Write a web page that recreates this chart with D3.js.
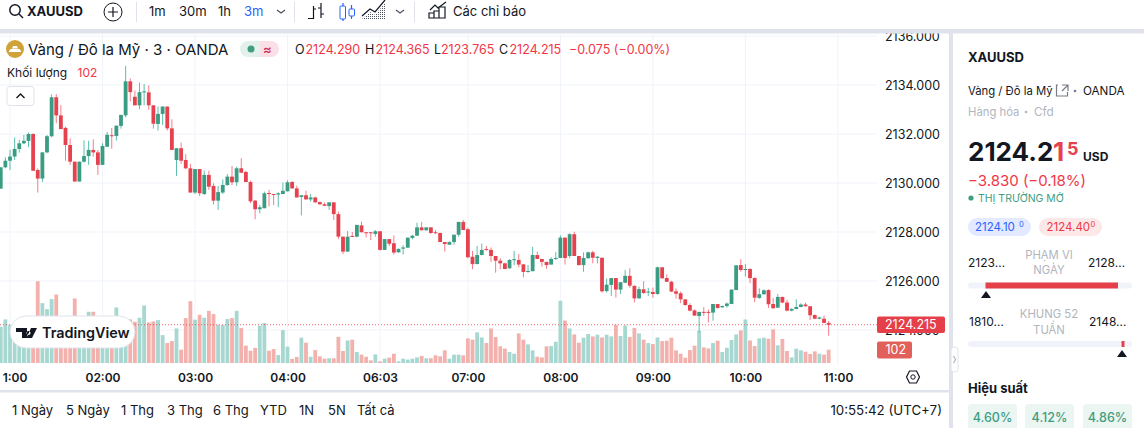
<!DOCTYPE html>
<html lang="vi">
<head>
  <meta charset="UTF-8">
  <title>XAUUSD</title>
  <script src="https://d3js.org/d3.v7.min.js"></script>
  <style>
    html, body { margin: 0; padding: 0; background: #fff; overflow: hidden; }
    svg { display: block; font-family: Inter, "Noto Sans", sans-serif; }
    .axis path, .axis line { display: none; }
    .axis text { font-family: Inter, "Noto Sans", sans-serif; fill: #131722; }
  </style>
</head>
<body>
  <script>
    // Candles, left to right, one every 3 minutes
    const opens = [2129.77,2130.64,2130.91,2131.08,2131.39,2131.62,2131.72,2132.00,2130.53,2130.18,2131.25,2131.91,2133.50,2132.76,2132.25,2131.55,2130.87,2130.06,2130.87,2131.10,2131.35,2131.25,2130.74,2131.48,2131.95,2131.92,2132.33,2132.76,2134.15,2133.52,2133.17,2133.70,2133.70,2133.17,2132.41,2132.82,2133.12,2132.23,2130.94,2131.42,2130.94,2130.60,2129.61,2130.57,2129.55,2130.33,2129.88,2129.28,2129.61,2129.92,2130.26,2130.03,2130.60,2130.45,2130.04,2129.28,2128.93,2128.97,2129.59,2129.55,2129.53,2129.55,2129.66,2130.04,2129.78,2129.43,2129.50,2129.33,2129.41,2129.22,2129.13,2129.06,2129.21,2128.73,2127.81,2127.20,2127.84,2127.81,2128.27,2127.99,2127.99,2127.92,2128.03,2127.27,2127.71,2127.54,2127.17,2127.32,2127.36,2127.76,2127.85,2128.19,2128.07,2128.19,2127.99,2127.96,2127.59,2127.48,2127.59,2127.89,2128.41,2128.11,2126.99,2126.69,2127.06,2127.31,2127.27,2127.02,2126.83,2126.72,2126.52,2126.86,2126.86,2126.68,2126.37,2126.40,2127.06,2126.90,2126.78,2126.67,2126.90,2126.94,2127.77,2127.02,2127.91,2127.02,2126.65,2126.93,2127.17,2126.94,2126.95,2125.59,2125.84,2126.12,2125.65,2125.93,2126.21,2125.80,2125.29,2125.66,2125.53,2125.55,2125.47,2126.56,2126.12,2125.97,2125.58,2125.50,2125.25,2125.02,2124.80,2124.57,2124.74,2124.74,2124.71,2125.06,2124.93,2124.98,2125.06,2125.63,2126.65,2126.45,2126.49,2126.12,2125.31,2125.46,2125.63,2125.06,2124.91,2125.35,2125.12,2124.79,2124.86,2124.94,2125.04,2124.97,2124.61,2124.46,2124.46,2124.29];
    const highs = [2130.64,2131.05,2131.35,2131.86,2131.76,2131.96,2132.06,2132.03,2130.60,2131.25,2131.96,2133.62,2133.63,2133.18,2132.30,2131.82,2130.87,2130.87,2131.74,2131.72,2131.78,2131.35,2131.62,2132.08,2132.25,2132.34,2132.78,2134.78,2134.27,2133.77,2134.10,2134.04,2133.99,2133.17,2133.12,2133.12,2133.12,2132.60,2131.42,2131.65,2131.18,2130.78,2130.57,2130.57,2130.50,2130.50,2129.99,2129.88,2130.15,2130.37,2130.70,2130.67,2131.01,2130.50,2130.10,2129.31,2129.10,2129.65,2129.72,2129.55,2129.62,2130.02,2130.11,2130.08,2129.89,2129.50,2129.69,2129.55,2129.44,2129.24,2129.20,2129.21,2129.21,2128.84,2127.81,2128.04,2128.00,2128.29,2128.42,2127.99,2127.99,2128.08,2128.03,2127.71,2127.71,2127.86,2127.33,2127.46,2127.77,2127.88,2128.38,2128.41,2128.19,2128.19,2128.08,2127.97,2127.59,2127.62,2127.89,2128.42,2128.49,2128.18,2127.23,2127.43,2127.53,2127.43,2127.37,2127.02,2126.93,2126.75,2126.89,2127.23,2127.10,2126.68,2126.65,2127.39,2127.20,2126.90,2126.78,2126.97,2127.18,2127.86,2127.77,2127.95,2128.01,2127.02,2127.17,2127.20,2127.23,2127.02,2126.95,2126.10,2126.12,2126.12,2125.95,2126.45,2126.52,2125.82,2125.77,2125.99,2125.72,2125.73,2126.59,2126.56,2126.27,2126.01,2125.70,2125.57,2125.25,2125.09,2124.84,2124.74,2124.93,2124.84,2125.06,2125.06,2125.00,2125.12,2125.65,2126.64,2126.89,2126.69,2126.52,2126.15,2125.70,2125.66,2125.66,2125.31,2125.47,2125.36,2125.23,2124.89,2125.25,2125.09,2125.12,2124.98,2124.64,2124.55,2124.59,2124.365];
    const lows = [2129.77,2130.60,2130.53,2130.94,2131.24,2131.59,2131.46,2130.50,2129.61,2130.04,2131.21,2131.86,2132.44,2132.20,2130.91,2130.74,2130.06,2130.06,2130.83,2130.74,2131.08,2130.33,2130.74,2131.48,2131.40,2131.73,2132.22,2132.68,2133.33,2133.17,2133.01,2133.17,2132.98,2132.22,2132.14,2132.37,2132.14,2131.35,2130.29,2130.78,2130.56,2129.61,2129.55,2129.47,2129.51,2129.72,2129.13,2128.90,2129.55,2129.88,2129.92,2129.88,2130.40,2130.04,2129.17,2128.52,2128.76,2128.97,2129.04,2129.10,2129.01,2129.55,2129.66,2129.77,2129.41,2128.68,2129.33,2129.24,2129.20,2129.12,2129.07,2128.90,2128.49,2127.71,2127.10,2127.20,2127.81,2127.78,2127.99,2127.78,2127.67,2127.81,2127.24,2127.27,2127.43,2127.08,2127.16,2127.08,2127.36,2127.70,2127.85,2128.06,2128.06,2127.92,2127.92,2127.59,2127.20,2127.48,2127.48,2127.81,2128.08,2126.93,2126.48,2126.69,2127.05,2127.24,2126.78,2126.34,2126.48,2126.48,2126.50,2126.65,2126.56,2126.15,2126.34,2126.40,2126.90,2126.59,2126.50,2126.67,2126.86,2126.94,2126.67,2126.93,2127.02,2126.63,2126.38,2126.91,2126.72,2126.72,2125.53,2125.53,2125.39,2125.32,2125.47,2125.91,2125.72,2125.12,2125.28,2125.47,2125.39,2125.32,2125.44,2126.10,2125.96,2125.55,2125.28,2125.09,2124.99,2124.76,2124.57,2123.93,2124.57,2124.31,2124.38,2124.87,2124.90,2124.91,2125.06,2125.63,2126.38,2126.18,2125.91,2125.14,2125.27,2125.44,2124.90,2124.86,2124.90,2125.09,2124.76,2124.76,2124.84,2124.93,2124.95,2124.41,2124.44,2124.44,2124.27,2123.765];
    const closes = [2130.64,2130.91,2131.08,2131.39,2131.62,2131.72,2132.00,2130.50,2130.18,2131.25,2131.91,2133.50,2132.76,2132.20,2131.55,2130.87,2130.06,2130.87,2131.10,2131.35,2131.25,2130.74,2131.51,2131.97,2131.92,2132.34,2132.78,2134.15,2133.71,2133.17,2133.71,2133.74,2133.17,2132.42,2132.82,2133.12,2132.23,2131.35,2131.42,2130.91,2130.60,2129.61,2130.57,2129.58,2130.33,2129.85,2129.28,2129.63,2129.92,2130.26,2130.03,2130.60,2130.42,2130.04,2129.25,2128.93,2129.01,2129.58,2129.57,2129.53,2129.58,2129.68,2130.03,2129.78,2129.41,2129.50,2129.33,2129.41,2129.21,2129.13,2129.07,2129.21,2128.73,2127.81,2127.20,2127.81,2127.81,2128.29,2127.99,2127.95,2127.96,2128.03,2127.27,2127.71,2127.52,2127.16,2127.31,2127.37,2127.77,2127.85,2128.19,2128.07,2128.19,2127.96,2127.96,2127.59,2127.51,2127.59,2127.89,2128.41,2128.08,2126.97,2126.69,2127.06,2127.27,2127.27,2127.02,2126.83,2126.72,2126.49,2126.86,2126.89,2126.67,2126.37,2126.41,2127.06,2126.90,2126.78,2126.65,2126.90,2126.94,2127.77,2126.94,2127.91,2127.02,2126.65,2126.94,2127.17,2126.95,2126.99,2125.58,2125.85,2126.12,2125.65,2125.95,2126.21,2125.81,2125.29,2125.67,2125.51,2125.57,2125.47,2126.56,2126.11,2125.97,2125.57,2125.48,2125.25,2125.02,2124.79,2124.59,2124.74,2124.71,2124.71,2125.06,2124.90,2124.98,2125.08,2125.65,2126.64,2126.45,2126.49,2126.12,2125.32,2125.46,2125.62,2125.05,2124.89,2125.35,2125.12,2124.79,2124.86,2124.94,2125.04,2124.97,2124.60,2124.46,2124.51,2124.29,2124.215];
    const volumes = [278,334,291,240,265,227,214,303,627,459,413,490,525,329,265,240,495,291,316,393,393,291,303,240,316,426,329,291,334,316,347,441,311,319,329,214,153,168,265,102,344,474,332,370,347,400,375,291,291,337,344,400,268,133,94,115,286,306,94,107,61,252,125,31,46,194,156,48,99,51,33,36,36,201,92,173,179,84,64,48,20,66,13,33,41,71,13,33,26,33,43,54,36,36,59,51,97,33,64,64,59,189,179,235,196,153,265,199,128,110,84,71,227,179,143,97,48,43,128,130,163,477,326,265,219,156,194,222,204,217,196,217,204,293,207,288,199,268,227,179,153,145,196,168,171,194,97,71,41,99,133,247,120,112,153,171,84,117,176,219,250,334,173,130,189,194,186,258,135,184,92,43,110,97,87,69,89,71,64,102];

    const timeTickBars = [2, 22, 42, 62, 82, 101, 121, 141, 161, 181];
    const timeTickLabels = ["1:00", "02:00", "03:00", "04:00", "06:03", "07:00", "08:00", "09:00", "10:00", "11:00"];
    const priceTicks = [2136, 2134, 2132, 2130, 2128, 2126, 2124];
    const lastPrice = 2124.215;
    const lastVolume = 102;

    const rangeLabels = ["1 Ngày", "5 Ngày", "1 Thg", "3 Thg", "6 Thg", "YTD", "1N", "5N", "Tất cả"];
    const rangeX = [12, 66, 121, 167, 213, 260, 299, 328, 357];
    const intervalLabels = ["1m", "30m", "1h", "3m"];
    const intervalX = [149, 179, 218, 244];
    const performance = ["4.60%", "4.12%", "4.86%"];

    const upColor = "#089981", downColor = "#f23645", textColor = "#131722", grey = "#b2b5be", band = "#e0e3eb";

    const svg = d3.select("body").append("svg").attr("width", 1144).attr("height", 428);

    const x = d3.scaleLinear().domain([0, 181]).range([0.75, 837.9]);
    const y = d3.scaleLinear().domain([2136, 2124]).range([36, 330]);
    const yVol = d3.scaleLinear().domain([0, 102]).range([363, 349.7]);

    function label(g, text, px, py, size, color, opts = {}) {
      return g.append("text").attr("x", px).attr("y", py)
        .attr("font-size", size).attr("fill", color)
        .attr("font-weight", opts.weight || 400)
        .attr("text-anchor", opts.anchor || "start")
        .text(text);
    }
    function icon(g, d, color, width = 1.2) {
      return g.append("path").attr("d", d).attr("fill", "none").attr("stroke", color).attr("stroke-width", width);
    }

    // Chart area
    const chart = svg.append("g");
    svg.append("clipPath").attr("id", "plot").append("rect").attr("x", 0).attr("y", 34).attr("width", 877).attr("height", 330);

    const grid = chart.append("g").attr("clip-path", "url(#plot)").attr("stroke", "#f0f3fa").attr("stroke-width", 1);
    grid.selectAll(".h").data(priceTicks).enter().append("line")
      .attr("x1", 0).attr("x2", 877).attr("y1", d => y(d)).attr("y2", d => y(d));
    grid.selectAll(".v").data(timeTickBars).enter().append("line")
      .attr("x1", d => x(d)).attr("x2", d => x(d)).attr("y1", 34).attr("y2", 364);

    const isUp = i => closes[i] >= opens[i];

    // Volume
    chart.append("g").selectAll("rect").data(volumes).enter().append("rect")
      .attr("x", (d, i) => x(i) - 1.9)
      .attr("width", 3.8)
      .attr("y", d => yVol(d))
      .attr("height", d => yVol(0) - yVol(d))
      .attr("fill", (d, i) => isUp(i) ? "#a6d7d0" : "#f2b1ad");

    // Candles
    const candles = chart.append("g").selectAll("g").data(opens).enter().append("g");
    candles.append("line")
      .attr("x1", (d, i) => x(i)).attr("x2", (d, i) => x(i))
      .attr("y1", (d, i) => y(highs[i])).attr("y2", (d, i) => y(lows[i]))
      .attr("stroke", (d, i) => isUp(i) ? upColor : downColor)
      .attr("stroke-width", 1).attr("stroke-opacity", 0.65);
    candles.append("rect")
      .attr("x", (d, i) => x(i) - 1.9)
      .attr("width", 3.8)
      .attr("y", (d, i) => y(Math.max(opens[i], closes[i])))
      .attr("height", (d, i) => Math.max(1, Math.abs(y(opens[i]) - y(closes[i]))))
      .attr("fill", (d, i) => isUp(i) ? "#3a9c82" : "#e5414e");

    // Last price line
    chart.append("line").attr("x1", 0).attr("x2", 877).attr("y1", y(lastPrice)).attr("y2", y(lastPrice))
      .attr("stroke", downColor).attr("stroke-opacity", 0.75).attr("stroke-dasharray", "1 2");

    // Axes
    const priceAxis = chart.append("g").attr("class", "axis").attr("transform", "translate(885,0)")
      .call(d3.axisRight(y).tickValues(priceTicks).tickFormat(d3.format(".3f")).tickSize(0).tickPadding(0));
    priceAxis.selectAll("text").attr("font-size", 12.5);

    const timeAxis = chart.append("g").attr("class", "axis").attr("transform", "translate(0,373)")
      .call(d3.axisBottom(x).tickValues(timeTickBars).tickFormat((d, i) => timeTickLabels[i]).tickSize(0).tickPadding(0));
    timeAxis.selectAll("text").attr("font-size", 12).attr("font-weight", 600)
      .attr("dx", (d, i) => i === 0 ? 4.5 : 0);

    // Cover the clipped top of the first tick label
    svg.append("rect").attr("x", 0).attr("y", 0).attr("width", 1144).attr("height", 29).attr("fill", "#fff");
    svg.append("rect").attr("x", 0).attr("y", 29).attr("width", 1144).attr("height", 4.5).attr("fill", band);

    // Last price and volume tags
    chart.append("rect").attr("x", 877).attr("y", 316.5).attr("width", 68).attr("height", 16.5).attr("rx", 2).attr("fill", "#e5404a");
    label(chart, "2124.215", 885, 329, 12.5, "#fff");
    chart.append("rect").attr("x", 877).attr("y", 341.5).attr("width", 35).attr("height", 17).attr("rx", 2).attr("fill", "#e2605a");
    label(chart, "102", 885.5, 354, 12.5, "#fff");
    // settings hexagon
    icon(chart, "M906.5 377l3-6h7l3 6-3 6h-7z", textColor, 1.2);
    chart.append("circle").attr("cx", 913).attr("cy", 377).attr("r", 2.2).attr("fill", "none").attr("stroke", textColor);

    // TradingView watermark
    const logo = chart.append("g");
    logo.append("rect").attr("x", 10).attr("y", 316).attr("width", 125).attr("height", 32).attr("rx", 16)
      .attr("fill", "#fff").attr("stroke", band);
    logo.append("path").attr("fill", textColor)
      .attr("d", "M16 328h11v10h-5v-6h-6zM28.5 331a2 2 0 1 0 .01 0zM31 328h6l-5 10h-5.5z");
    label(logo, "TradingView", 42, 338, 14.4, textColor, { weight: 600 });

    // Legend
    const legend = svg.append("g");
    legend.append("circle").attr("cx", 15).attr("cy", 49).attr("r", 9).attr("fill", "#d0a33a");
    legend.append("path").attr("d", "M8.5 52h13l-2-3h-9zM12 48.5h6l-1-2.5h-4z").attr("fill", "#fff");
    label(legend, "Vàng / Đô la Mỹ · 3 · OANDA", 28, 55, 15, textColor);
    legend.append("path").attr("d", "M248 41h12v16h-12a8 8 0 0 1 0-16z").attr("fill", "#e3f1ed");
    legend.append("path").attr("d", "M260 41h11a8 8 0 0 1 0 16h-11z").attr("fill", "#fadfe6");
    legend.append("circle").attr("cx", 251).attr("cy", 49).attr("r", 3.5).attr("fill", "#3f9d80");
    label(legend, "≈", 263, 54, 13, "#c9305f", { weight: 600 });

    const ohlc = [["O", "2124.290", 295], ["H", "2124.365", 365], ["L", "2123.765", 434], ["C", "2124.215", 499]];
    ohlc.forEach(([k, v, px]) => {
      label(legend, k, px, 54, 12.5, textColor);
      label(legend, v, px + (k === "L" ? 7 : 10.5), 54, 12.5, downColor);
    });
    label(legend, "−0.075 (−0.00%)", 569, 54, 12.5, downColor);
    label(legend, "Khối lượng", 7, 77, 12, textColor);
    label(legend, "102", 77.5, 77, 12, downColor);
    legend.append("rect").attr("x", 7).attr("y", 86.5).attr("width", 27).attr("height", 19).attr("rx", 3)
      .attr("fill", "#fff").attr("stroke", band);
    icon(legend, "M16.5 98l4-4 4 4", textColor, 1.4);

    // Top toolbar
    const bar = svg.append("g");
    bar.append("circle").attr("cx", 15).attr("cy", 10).attr("r", 5.2).attr("fill", "none").attr("stroke", textColor).attr("stroke-width", 1.5);
    icon(bar, "M19 14l4 4", textColor, 1.5);
    label(bar, "XAUUSD", 27, 16, 13, textColor, { weight: 700 });
    bar.append("circle").attr("cx", 113).attr("cy", 12).attr("r", 9).attr("fill", "none").attr("stroke", textColor);
    icon(bar, "M108 12h10M113 7v10", textColor);
    intervalLabels.forEach((t, i) => label(bar, t, intervalX[i], 16, 13, t === "3m" ? "#2962ff" : textColor));
    [136.5, 294.5, 414.5].forEach(px => bar.append("line").attr("x1", px).attr("x2", px).attr("y1", 2).attr("y2", 22).attr("stroke", band));
    icon(bar, "M277 10l4 3 4-3M396 10l4 3 4-3", "#50535e");
    // bars icon
    icon(bar, "M313.5 6v13M308 18.5h5.5M313.5 9h2.5M321 3v15M318 8h3M321 14h3", textColor);
    // candle icon
    icon(bar, "M343 3v18M351.5 5v14", "#2962ff");
    bar.append("rect").attr("x", 340).attr("y", 6).attr("width", 5.5).attr("height", 13).attr("rx", 1).attr("fill", "#fff").attr("stroke", "#2962ff");
    bar.append("rect").attr("x", 349).attr("y", 9).attr("width", 5.5).attr("height", 7).attr("rx", 1).attr("fill", "#fff").attr("stroke", "#2962ff");
    // area icon, dotted fill
    const dots = svg.append("pattern").attr("id", "dots").attr("width", 2).attr("height", 2).attr("patternUnits", "userSpaceOnUse");
    dots.append("rect").attr("width", 1).attr("height", 1).attr("fill", "#50535e");
    bar.append("path").attr("d", "M362 19l8-7 5 3 10-12v16z").attr("fill", "url(#dots)");
    icon(bar, "M362 16l8-7 5 3 10-12", textColor);
    // indicators icon
    icon(bar, "M429 18h5v-5h-5zM434 18h5V11h-5zM439 18h6V7h-6zM430 10l5-5 3 3 8-6", textColor);
    label(bar, "Các chỉ báo", 453, 16, 13, textColor);

    // Band between chart and panel, bottom strip
    svg.append("rect").attr("x", 0).attr("y", 390).attr("width", 949).attr("height", 2.5).attr("fill", band);
    svg.append("rect").attr("x", 949).attr("y", 29).attr("width", 4).attr("height", 399).attr("fill", band);

    rangeLabels.forEach((t, i) => label(svg, t, rangeX[i], 415, 13, textColor));
    label(svg, "10:55:42 (UTC+7)", 942, 415, 13.3, textColor, { anchor: "end" });

    // Side panel
    const side = svg.append("g");
    label(side, "XAUUSD", 968, 62, 13, textColor, { weight: 700 });
    label(side, "Vàng / Đô la Mỹ", 968, 95, 11.3, textColor);
    icon(side, "M1058 85h-1.5v11h11v-4M1062 85h6v6M1068 85l-6 6", "#787b86");
    side.append("circle").attr("cx", 1075).attr("cy", 91).attr("r", 1.3).attr("fill", "#787b86");
    label(side, "OANDA", 1083, 95, 11.7, textColor);
    label(side, "Hàng hóa", 968, 116, 11.3, grey);
    side.append("circle").attr("cx", 1026).attr("cy", 112).attr("r", 1.3).attr("fill", grey);
    label(side, "Cfd", 1034, 116, 11.7, grey);

    label(side, "2124.2", 968, 161, 26, textColor, { weight: 700 });
    label(side, "1", 1053, 161, 26, "#e5414e", { weight: 700 });
    label(side, "5", 1067, 155, 18, "#e5414e", { weight: 700 });
    label(side, "USD", 1083, 161, 12, textColor, { weight: 700 });
    label(side, "−3.830 (−0.18%)", 968, 186, 15, downColor);
    side.append("circle").attr("cx", 971).attr("cy", 198).attr("r", 2.6).attr("fill", "#3f9d80");
    label(side, "THỊ TRƯỜNG MỞ", 978, 202, 10.5, "#3f9d80");

    side.append("rect").attr("x", 968).attr("y", 218).attr("width", 63).attr("height", 18).attr("rx", 9).attr("fill", "#e3eaff");
    label(side, "2124.10", 975, 231, 11.5, "#2962ff");
    label(side, "0", 1019, 227, 7.5, "#2962ff");
    side.append("rect").attr("x", 1039).attr("y", 218).attr("width", 63).attr("height", 18).attr("rx", 9).attr("fill", "#fde8e8");
    label(side, "2124.40", 1046.5, 231, 11.5, downColor);
    label(side, "0", 1090.5, 227, 7.5, downColor);

    label(side, "2123…", 968, 267, 12, textColor);
    label(side, "PHẠM VI", 1049, 259, 11.3, grey, { anchor: "middle" });
    label(side, "NGÀY", 1049, 274, 11.3, grey, { anchor: "middle" });
    label(side, "2128…", 1088, 267, 12, textColor);
    side.append("rect").attr("x", 968).attr("y", 282.5).attr("width", 164).attr("height", 6).attr("rx", 3).attr("fill", "#f0f3fa");
    side.append("rect").attr("x", 985.5).attr("y", 282.5).attr("width", 132.5).attr("height", 6).attr("fill", "#e5404a");
    side.append("path").attr("d", "M981 298l5-7 5 7z").attr("fill", textColor);

    label(side, "1810…", 969, 326, 12, textColor);
    label(side, "KHUNG 52", 1049, 318, 11.3, grey, { anchor: "middle" });
    label(side, "TUẦN", 1049, 334, 11.3, grey, { anchor: "middle" });
    label(side, "2148…", 1089, 326, 12, textColor);
    side.append("rect").attr("x", 968).attr("y", 341).attr("width", 164).attr("height", 6).attr("rx", 3).attr("fill", "#f0f3fa");
    side.append("rect").attr("x", 1121.5).attr("y", 341).attr("width", 3).attr("height", 6).attr("fill", "#e5404a");
    side.append("path").attr("d", "M1117 357l5-7 5 7z").attr("fill", textColor);

    // Panel handle
    side.append("rect").attr("x", 951).attr("y", 347).attr("width", 7).attr("height", 25).attr("rx", 3).attr("fill", "#fff").attr("stroke", band);
    icon(side, "M953.5 356l2 3.5-2 3.5", grey);

    label(side, "Hiệu suất", 968, 393, 13, textColor, { weight: 700 });
    performance.forEach((t, i) => {
      const px = [968, 1025, 1083][i];
      side.append("rect").attr("x", px).attr("y", 404).attr("width", 49).attr("height", 30).attr("rx", 4).attr("fill", "#ebf5f2");
      label(side, t, px + 24.5, 422, 12.5, "#3f9d80", { anchor: "middle", weight: 500 });
    });
  </script>
</body>
</html>
